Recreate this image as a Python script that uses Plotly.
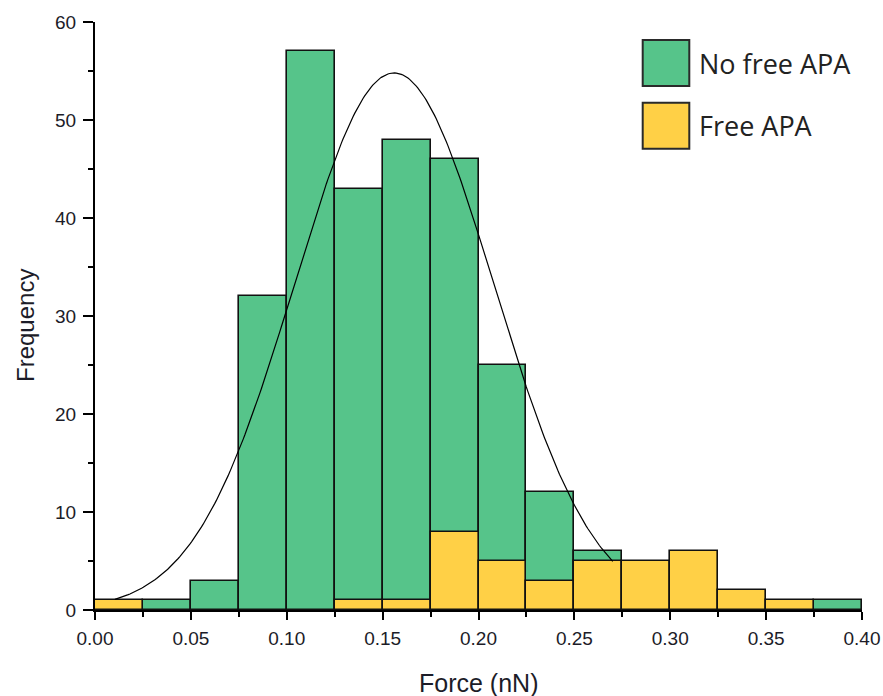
import numpy as np
import plotly.graph_objects as go

# Histogram bins (nN): left edges of 0.025-wide bins from 0 to 0.4
bin_width = 0.025
bin_left = [0.000, 0.025, 0.050, 0.075, 0.100, 0.125, 0.150, 0.175,
            0.200, 0.225, 0.250, 0.275, 0.300, 0.325, 0.350, 0.375]

# Counts per bin
no_free_apa = [0, 1, 3, 32, 57, 43, 48, 46, 25, 12, 6, 0, 0, 0, 0, 1]
free_apa = [1, 0, 0, 0, 0, 1, 1, 8, 5, 3, 5, 5, 6, 2, 1, 0]

# Normal fit to the "No free APA" distribution
fit_amplitude = 54.8
fit_mean = 0.156
fit_sd = 0.052
fit_start, fit_end = 0.0104, 0.27

x_ticks = [0.00, 0.05, 0.10, 0.15, 0.20, 0.25, 0.30, 0.35, 0.40]
x_tick_text = ["0.00", "0.05", "0.10", "0.15", "0.20", "0.25", "0.30", "0.35", "0.40"]
y_ticks = [0, 10, 20, 30, 40, 50, 60]

GREEN = "#56C48A"
YELLOW = "#FFD046"
EDGE = "#111111"
TEXT = "#1c1c28"
FONT = "Liberation Sans, Arial"

centers = [b + bin_width / 2 for b in bin_left]

fig = go.Figure()
fig.add_trace(go.Bar(
    x=centers, y=no_free_apa, width=bin_width, name="No free APA",
    marker=dict(color=GREEN, line=dict(color=EDGE, width=1.6)),
    showlegend=False,
))
fig.add_trace(go.Bar(
    x=[c for c, v in zip(centers, free_apa) if v > 0],
    y=[v for v in free_apa if v > 0], width=bin_width, name="Free APA",
    marker=dict(color=YELLOW, line=dict(color=EDGE, width=1.6)),
    showlegend=False,
))

xf = np.linspace(fit_start, fit_end, 300)
yf = fit_amplitude * np.exp(-((xf - fit_mean) ** 2) / (2 * fit_sd ** 2))
fig.add_trace(go.Scatter(
    x=xf, y=yf, mode="lines", line=dict(color="#000000", width=1.2),
    showlegend=False, hoverinfo="skip",
))

# Page geometry helpers (pixel -> paper fraction)
L, R, T, B = 95, 21, 22, 86
W, H = 883, 696
pw, ph = W - L - R, H - T - B


def px_x(p):
    return (p - L) / pw


def px_y(p):
    return (H - B - p) / ph


# Legend drawn as boxes with labels
legend_items = [("No free APA", GREEN, 40, 86), ("Free APA", YELLOW, 102.7, 148.7)]
for label, color, top, bottom in legend_items:
    fig.add_shape(type="rect", xref="paper", yref="paper",
                  x0=px_x(642.7), x1=px_x(689.3), y0=px_y(bottom), y1=px_y(top),
                  fillcolor=color, line=dict(color="#2a2a2a", width=2), layer="above")
    fig.add_annotation(xref="paper", yref="paper", x=px_x(697), y=px_y((top + bottom) / 2),
                       text=label, showarrow=False, xanchor="left", yanchor="middle",
                       font=dict(family="Open Sans", size=27, color="#222222"))

# Axis titles
fig.add_annotation(xref="paper", yref="paper", x=px_x(478), y=px_y(683),
                   text="Force (nN)", showarrow=False, xanchor="center", yanchor="middle",
                   font=dict(family=FONT, size=25, color=TEXT))
fig.add_annotation(xref="paper", yref="paper", x=px_x(25), y=px_y(326),
                   text="Frequency", showarrow=False, textangle=-90,
                   xanchor="center", yanchor="middle",
                   font=dict(family=FONT, size=24, color=TEXT))

axis_common = dict(
    showline=True, linecolor="#000000", linewidth=2, mirror=False,
    ticks="outside", tickcolor="#000000", tickwidth=2,
    showgrid=False, zeroline=False, automargin=False,
    tickfont=dict(family=FONT, size=19, color=TEXT),
)

fig.update_layout(
    width=W, height=H,
    margin=dict(l=L, r=R, t=T, b=B),
    paper_bgcolor="white", plot_bgcolor="white",
    barmode="overlay", bargap=0,
    xaxis=dict(
        range=[0, 0.4], tickvals=x_ticks, ticktext=x_tick_text, ticklen=8,
        minor=dict(dtick=0.025, tick0=0, ticks="outside", ticklen=5,
                   tickcolor="#000000", tickwidth=1.5),
        ticklabelstandoff=2,
        **axis_common,
    ),
    yaxis=dict(
        range=[0, 60], tickvals=y_ticks, ticklen=10,
        minor=dict(dtick=5, tick0=0, ticks="outside", ticklen=5,
                   tickcolor="#000000", tickwidth=1.5),
        ticklabelstandoff=3,
        **axis_common,
    ),
)

fig.write_html("out.html")
